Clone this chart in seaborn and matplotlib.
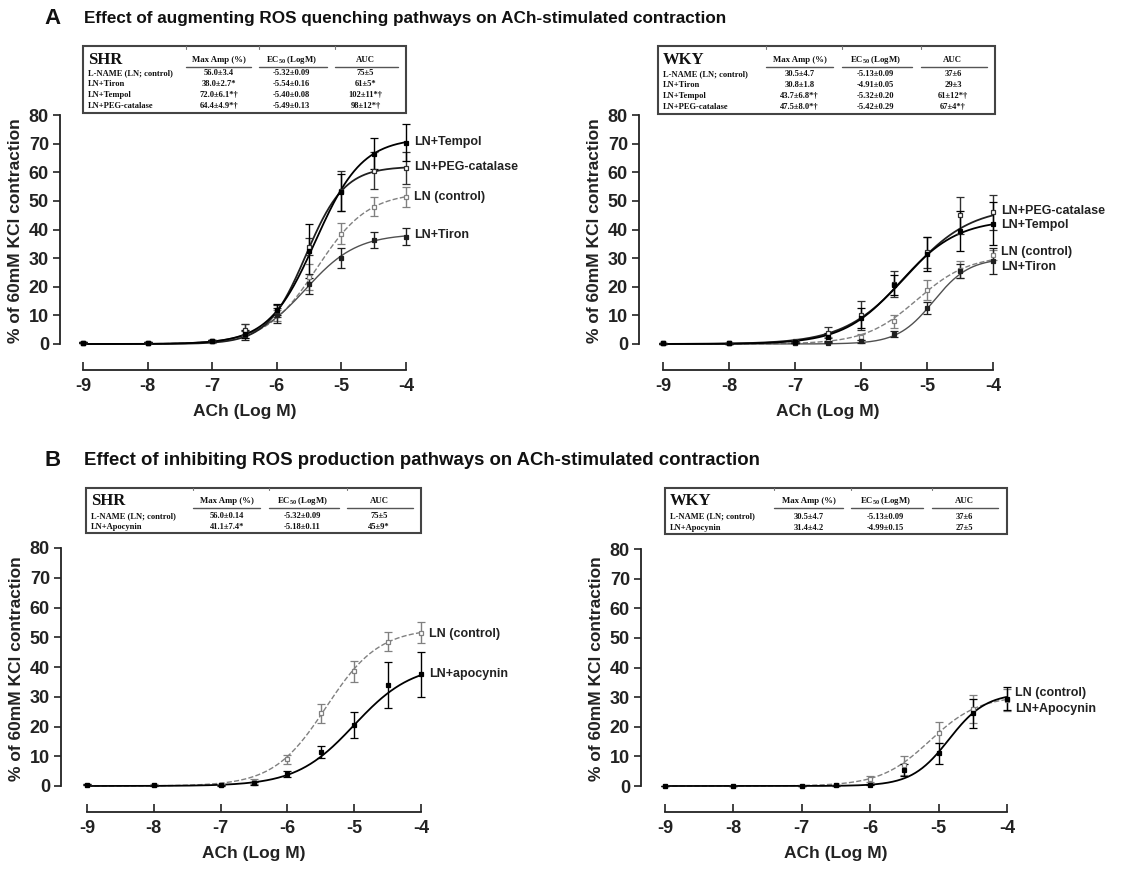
import matplotlib.pyplot as plt
import numpy as np
import pandas as pd
import seaborn as sns
from matplotlib.patches import Rectangle

W, H = 1146, 869

# ---------------------------------------------------------------------------
# data
# ---------------------------------------------------------------------------
log_ach = [-9, -8, -7, -6.5, -6, -5.5, -5, -4.5, -4]

# A / SHR
a_shr_ctrl = [0.5, 0.5, 1.0, 4.5, 10.0, 23.5, 38.5, 48.0, 51.5]
a_shr_ctrl_sem = [0.3, 0.3, 0.5, 2.5, 2.0, 4.5, 3.7, 3.2, 3.5]
a_shr_tiron = [0.5, 0.5, 1.0, 3.0, 10.0, 21.0, 30.0, 36.3, 37.5]
a_shr_tiron_sem = [0.3, 0.3, 0.4, 1.5, 2.5, 3.5, 3.5, 2.7, 3.0]
a_shr_tempol = [0.5, 0.5, 1.0, 3.5, 12.0, 32.5, 53.0, 66.5, 70.3]
a_shr_tempol_sem = [0.3, 0.3, 0.4, 1.5, 2.0, 9.5, 6.5, 5.5, 6.5]
a_shr_peg = [0.5, 0.5, 1.0, 5.0, 11.5, 34.0, 53.5, 60.5, 61.5]
a_shr_peg_sem = [0.3, 0.3, 0.4, 2.0, 2.0, 3.0, 7.0, 6.5, 5.5]

# A / WKY
a_wky_ctrl = [0.3, 0.3, 0.5, 1.5, 2.5, 8.0, 19.0, 26.0, 31.0]
a_wky_ctrl_sem = [0.2, 0.2, 0.3, 0.8, 1.0, 2.3, 3.5, 3.0, 1.8]
a_wky_tiron = [0.3, 0.3, 0.5, 0.5, 1.0, 3.5, 12.5, 25.5, 29.0]
a_wky_tiron_sem = [0.2, 0.2, 0.2, 0.3, 0.5, 1.0, 2.0, 2.5, 4.5]
a_wky_tempol = [0.3, 0.3, 0.8, 2.5, 9.0, 20.5, 31.5, 39.5, 42.0]
a_wky_tempol_sem = [0.2, 0.2, 0.4, 1.5, 3.5, 3.5, 6.0, 7.0, 7.5]
a_wky_peg = [0.3, 0.3, 1.0, 4.0, 10.0, 21.0, 32.0, 45.0, 46.0]
a_wky_peg_sem = [0.2, 0.2, 0.5, 2.0, 5.0, 4.5, 5.5, 6.5, 6.0]

# B / SHR
b_shr_ctrl = [0.5, 0.5, 0.5, 1.5, 9.0, 24.5, 38.5, 48.5, 51.5]
b_shr_ctrl_sem = [0.3, 0.3, 0.3, 0.8, 1.5, 3.2, 3.5, 3.2, 3.5]
b_shr_apo = [0.5, 0.3, 0.3, 1.0, 4.0, 11.5, 20.5, 34.0, 37.5]
b_shr_apo_sem = [0.2, 0.2, 0.2, 0.5, 1.0, 2.0, 4.3, 7.8, 7.6]

# B / WKY
b_wky_ctrl = [0.0, 0.0, 0.0, 0.2, 2.5, 7.0, 18.0, 26.0, 29.0]
b_wky_ctrl_sem = [0.1, 0.1, 0.1, 0.2, 1.0, 3.2, 3.6, 4.6, 3.8]
b_wky_apo = [0.0, 0.0, 0.0, 0.2, 0.5, 5.5, 11.0, 24.5, 29.5]
b_wky_apo_sem = [0.1, 0.1, 0.1, 0.1, 0.3, 2.0, 3.5, 5.0, 4.0]

# fitted sigmoid parameters (top, logEC50, hill)
fit_a_shr = {"ctrl": (53, -5.38, 1.1), "tiron": (38.5, -5.55, 1.1),
             "tempol": (72, -5.40, 1.2), "peg": (62, -5.55, 1.45)}
fit_a_wky = {"ctrl": (31, -5.15, 1.1), "tiron": (30, -4.9, 1.6),
             "tempol": (43.5, -5.4, 1.0), "peg": (48, -5.3, 0.9)}
fit_b_shr = {"ctrl": (53, -5.42, 1.1), "apo": (41, -5.0, 1.0)}
fit_b_wky = {"ctrl": (30.5, -5.13, 1.2), "apo": (31.4, -4.85, 1.6)}

# tables
tbl_header = ["Max Amp (%)", "EC$_{\\mathregular{50}}$ (LogM)", "AUC"]
tbl_a_shr = [
    ["L-NAME (LN; control)", "56.0±3.4", "-5.32±0.09", "75±5"],
    ["LN+Tiron", "38.0±2.7*", "-5.54±0.16", "61±5*"],
    ["LN+Tempol", "72.0±6.1*†", "-5.40±0.08", "102±11*†"],
    ["LN+PEG-catalase", "64.4±4.9*†", "-5.49±0.13", "98±12*†"],
]
tbl_a_wky = [
    ["L-NAME (LN; control)", "30.5±4.7", "-5.13±0.09", "37±6"],
    ["LN+Tiron", "30.8±1.8", "-4.91±0.05", "29±3"],
    ["LN+Tempol", "43.7±6.8*†", "-5.32±0.20", "61±12*†"],
    ["LN+PEG-catalase", "47.5±8.0*†", "-5.42±0.29", "67±4*†"],
]
tbl_b_shr = [
    ["L-NAME (LN; control)", "56.0±0.14", "-5.32±0.09", "75±5"],
    ["LN+Apocynin", "41.1±7.4*", "-5.18±0.11", "45±9*"],
]
tbl_b_wky = [
    ["L-NAME (LN; control)", "30.5±4.7", "-5.13±0.09", "37±6"],
    ["LN+Apocynin", "31.4±4.2", "-4.99±0.15", "27±5"],
]

title_a = "Effect of augmenting ROS quenching pathways on ACh-stimulated contraction"
title_b = "Effect of inhibiting ROS production pathways on ACh-stimulated contraction"

# ---------------------------------------------------------------------------
sns.set_theme(style="ticks")
plt.rcParams["font.family"] = ["Liberation Sans", "DejaVu Sans"]
SERIF = ["Liberation Serif", "DejaVu Serif"]

GREY = "#808080"
STYLE = {
    "ctrl":   dict(color=GREY, ls="--", mfc="white", mec=GREY, lw=1.0),
    "tiron":  dict(color="#505050", ls="-", mfc="#202020", mec="#202020", lw=1.0),
    "tempol": dict(color="black", ls="-", mfc="black", mec="black", lw=1.3),
    "peg":    dict(color="#202020", ls="-", mfc="white", mec="#303030", lw=1.3),
    "apo":    dict(color="black", ls="-", mfc="black", mec="black", lw=1.3),
}

fig = plt.figure(figsize=(W / 100, H / 100), dpi=100)


def px_rect(x0, y0, x1, y1):
    return [x0 / W, 1 - y1 / H, (x1 - x0) / W, (y1 - y0) / H]


def make_panel(x9, x4, y0, y80, spine_x, spine_y, xlim=(-9.25, -3.75), ylim=(-3, 82)):
    ppx = (x4 - x9) / 5
    ppy = (y0 - y80) / 80
    left = x9 - (-9 - xlim[0]) * ppx
    right = x4 + (xlim[1] + 4) * ppx
    bottom = y0 + (0 - ylim[0]) * ppy
    top = y80 - (ylim[1] - 80) * ppy
    ax = fig.add_axes(px_rect(left, top, right, bottom))
    ax.set_xlim(*xlim)
    ax.set_ylim(*ylim)
    sns.despine(ax=ax)
    ax.spines["left"].set_position(("outward", (left - spine_x) * 0.72))
    ax.spines["bottom"].set_position(("outward", (spine_y - bottom) * 0.72))
    ax.spines["left"].set_bounds(0, 80)
    ax.spines["bottom"].set_bounds(-9, -4)
    for s in ("left", "bottom"):
        ax.spines[s].set_linewidth(1.3)
        ax.spines[s].set_color("#222222")
    ax.set_yticks(range(0, 81, 10))
    ax.set_xticks([-9, -8, -7, -6, -5, -4])
    ax.set_xticklabels(["-9", "-8", "-7", "-6", "-5", "-4"])
    ax.tick_params(axis="y", direction="out", length=5, width=1.2, pad=3,
                   labelsize=13, colors="#222222")
    ax.tick_params(axis="x", direction="in", length=6, width=1.2, pad=6,
                   labelsize=13, colors="#222222")
    for lab in ax.get_xticklabels() + ax.get_yticklabels():
        lab.set_fontweight("bold")
    ax.set_ylabel("% of 60mM KCl contraction", fontsize=12.5, fontweight="bold",
                  color="#222222", labelpad=4)
    ax.set_xlabel("ACh (Log M)", fontsize=12.5, fontweight="bold", color="#222222",
                  labelpad=6)
    ax.patch.set_alpha(0)
    return ax


def draw_series(ax, key, mean, sem, fit, label, label_y):
    st = STYLE[key]
    top, ec50, hill = fit
    xs = np.linspace(-9, -4, 300)
    curve = pd.DataFrame({"x": xs, "y": top / (1 + 10 ** ((ec50 - xs) * hill))})
    sns.lineplot(data=curve, x="x", y="y", ax=ax, color=st["color"],
                 linestyle=st["ls"], linewidth=st["lw"])
    ax.errorbar(log_ach, mean, yerr=sem, fmt="s", ms=3.2, mfc=st["mfc"], mec=st["mec"],
                mew=0.9, ecolor=st["mec"], elinewidth=1.0, capsize=3, capthick=1.0,
                clip_on=False, zorder=3)
    ax.annotate(label, xy=(-4, label_y), xytext=(6, 0), textcoords="offset points",
                fontsize=9, fontweight="bold", va="center", ha="left",
                color="#222222", annotation_clip=False)


def draw_table(box, strain, rows):
    tax = fig.add_axes(px_rect(*box))
    tax.set_xlim(0, 1)
    tax.set_ylim(0, 1)
    tax.axis("off")
    tax.add_patch(Rectangle((0, 0), 1, 1, transform=tax.transAxes, fill=False,
                            edgecolor="#444444", lw=1.5, clip_on=False))
    n = len(rows)
    if n == 4:
        y_head, y_line, y_rows = 0.79, 0.69, [0.59, 0.43, 0.27, 0.11]
    else:
        y_head, y_line, y_rows = 0.72, 0.56, [0.38, 0.13]
    head_fs, row_fs = 6.3, 6.1
    tax.text(0.015, y_head, strain, fontsize=12, fontweight="bold", family=SERIF,
             va="center", ha="left", color="#111111")
    centers = [0.42, 0.645, 0.875]
    spans = [(0.32, 0.52), (0.545, 0.755), (0.78, 0.975)]
    for c, (s0, s1), h in zip(centers, spans, tbl_header):
        tax.text(c, y_head, h, fontsize=head_fs, fontweight="bold", family=SERIF,
                 va="center", ha="center", color="#111111")
        tax.plot([s0, s1], [y_line, y_line], color="#555555", lw=1.0)
        tax.plot([s0, s0], [1, 0.96], color="#777777", lw=0.8)
    for y, row in zip(y_rows, rows):
        tax.text(0.015, y, row[0], fontsize=row_fs, fontweight="bold", family=SERIF,
                 va="center", ha="left", color="#111111")
        for c, v in zip(centers, row[1:]):
            tax.text(c, y, v, fontsize=row_fs, fontweight="bold", family=SERIF,
                     va="center", ha="center", color="#111111")


# panel titles
for y, letter, txt, fs in [(18, "A", title_a, 12.3), (460, "B", title_b, 13.4)]:
    fig.text(44 / W, 1 - y / H, letter, fontsize=16, fontweight="bold",
             va="center", ha="left", color="#111111")
    fig.text(84 / W, 1 - y / H, txt, fontsize=fs, fontweight="bold",
             va="center", ha="left", color="#111111")

# A, SHR
ax = make_panel(83, 406, 344, 115, 60, 370)
draw_series(ax, "ctrl", a_shr_ctrl, a_shr_ctrl_sem, fit_a_shr["ctrl"], "LN (control)", 51.5)
draw_series(ax, "tiron", a_shr_tiron, a_shr_tiron_sem, fit_a_shr["tiron"], "LN+Tiron", 38)
draw_series(ax, "peg", a_shr_peg, a_shr_peg_sem, fit_a_shr["peg"], "LN+PEG-catalase", 62)
draw_series(ax, "tempol", a_shr_tempol, a_shr_tempol_sem, fit_a_shr["tempol"], "LN+Tempol", 70.5)
draw_table((83, 46, 406, 113), "SHR", tbl_a_shr)

# A, WKY
ax = make_panel(663, 993, 344, 115, 639, 370)
draw_series(ax, "ctrl", a_wky_ctrl, a_wky_ctrl_sem, fit_a_wky["ctrl"], "LN (control)", 32)
draw_series(ax, "tiron", a_wky_tiron, a_wky_tiron_sem, fit_a_wky["tiron"], "LN+Tiron", 27)
draw_series(ax, "peg", a_wky_peg, a_wky_peg_sem, fit_a_wky["peg"], "LN+PEG-catalase", 46.5)
draw_series(ax, "tempol", a_wky_tempol, a_wky_tempol_sem, fit_a_wky["tempol"], "LN+Tempol", 41.5)
draw_table((658, 46, 995, 114), "WKY", tbl_a_wky)

# B, SHR
ax = make_panel(87, 421, 786, 548, 61, 812)
draw_series(ax, "ctrl", b_shr_ctrl, b_shr_ctrl_sem, fit_b_shr["ctrl"], "LN (control)", 51)
draw_series(ax, "apo", b_shr_apo, b_shr_apo_sem, fit_b_shr["apo"], "LN+apocynin", 37.5)
draw_table((86, 488, 421, 533), "SHR", tbl_b_shr)

# B, WKY
ax = make_panel(665, 1007, 786, 549, 641, 812)
draw_series(ax, "ctrl", b_wky_ctrl, b_wky_ctrl_sem, fit_b_wky["ctrl"], "LN (control)", 31.5)
draw_series(ax, "apo", b_wky_apo, b_wky_apo_sem, fit_b_wky["apo"], "LN+Apocynin", 26)
draw_table((665, 488, 1007, 534), "WKY", tbl_b_wky)

fig.savefig("out.png", dpi=100)
